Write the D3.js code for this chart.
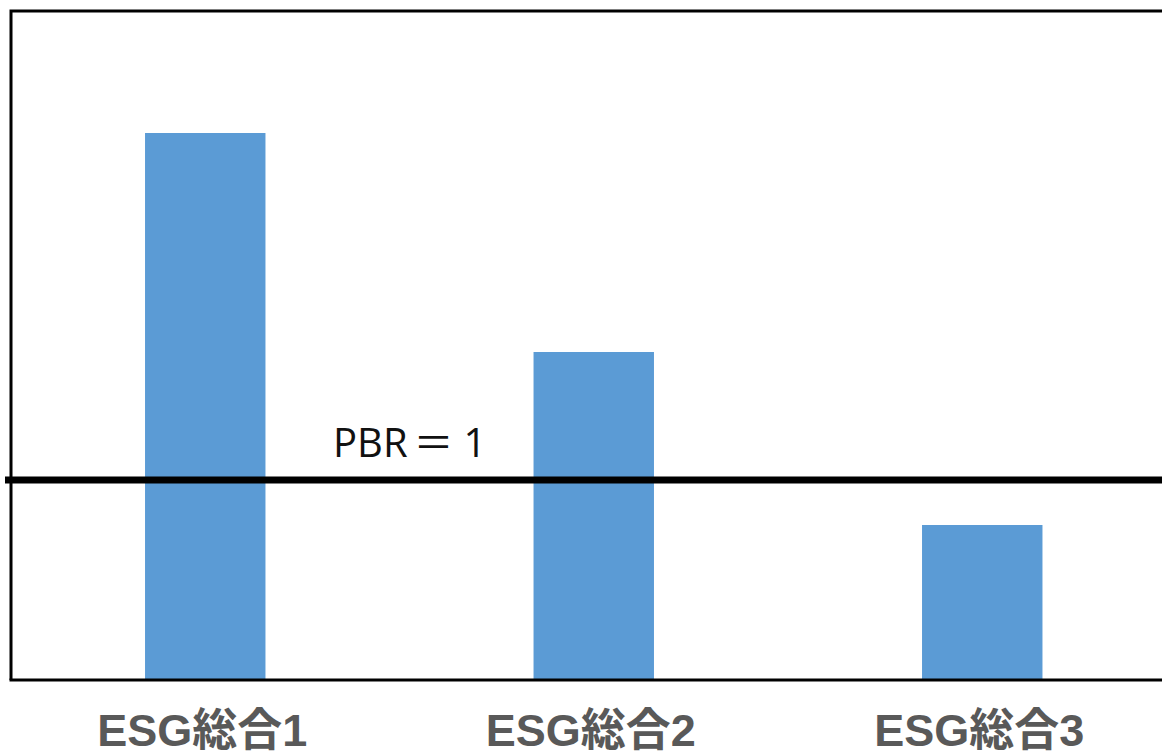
<!DOCTYPE html>
<html>
<head>
<meta charset="utf-8">
<script src="https://cdn.jsdelivr.net/npm/d3@7"></script>
<style>
  html, body { margin: 0; padding: 0; background: #fff; overflow: hidden; }
</style>
</head>
<body>
<svg id="chart" width="1162" height="751"></svg>
<script>
// Category labels and bar values (PBR relative scale)
const categories = ["ESG総合1", "ESG総合2", "ESG総合3"];
const pbrValues = [2.735, 1.64, 0.775];
const referenceValue = 1;
const referenceParts = ["PBR", "＝", "1"];
const yMax = 3.345;

const svg = d3.select("#chart");

const plot = { left: 11, top: 11, right: 1176.5, bottom: 680 };

const x = d3.scaleBand()
  .domain(categories)
  .range([plot.left, plot.right])
  .paddingInner(0.69)
  .paddingOuter(0.345);

const y = d3.scaleLinear()
  .domain([0, yMax])
  .range([plot.bottom, plot.top]);

// Bars
svg.append("g")
  .selectAll("rect")
  .data(categories)
  .join("rect")
  .attr("x", d => x(d))
  .attr("width", x.bandwidth())
  .attr("y", (d, i) => y(pbrValues[i]))
  .attr("height", (d, i) => y(0) - y(pbrValues[i]))
  .attr("fill", "#5B9BD5");

// Plot frame: left, top and bottom edges
const frame = svg.append("g")
  .attr("stroke", "#000")
  .attr("stroke-width", 3)
  .attr("fill", "none");
frame.append("path")
  .attr("d", `M${plot.left},${plot.bottom} L${plot.left},${plot.top} L1162,${plot.top}`);
frame.append("line")
  .attr("x1", plot.left - 1.5).attr("x2", 1162)
  .attr("y1", y(0)).attr("y2", y(0));

// Reference line at PBR = 1
svg.append("line")
  .attr("x1", 5).attr("x2", 1162)
  .attr("y1", y(referenceValue)).attr("y2", y(referenceValue))
  .attr("stroke", "#000")
  .attr("stroke-width", 7);

const refText = svg.append("text")
  .attr("x", 333)
  .attr("y", y(referenceValue) - 23)
  .attr("font-family", "'Open Sans', 'Noto Sans CJK JP', sans-serif")
  .attr("font-size", 40)
  .attr("fill", "#111");
refText.selectAll("tspan")
  .data(referenceParts)
  .join("tspan")
  .attr("dx", (d, i) => [0, 6, 10][i])
  .text(d => d);

// Category axis labels
const xAxis = d3.axisBottom(x).tickSize(0).tickPadding(0);
const axisG = svg.append("g")
  .attr("transform", `translate(0, ${plot.bottom})`)
  .call(xAxis);
axisG.select(".domain").remove();
axisG.selectAll("text")
  .attr("dy", null)
  .attr("x", -3)
  .attr("y", 66)
  .attr("font-family", "'Liberation Sans', Arial, 'Noto Sans CJK JP', sans-serif")
  .attr("font-size", 45)
  .attr("font-weight", "bold")
  .attr("fill", "#595959");
</script>
</body>
</html>
